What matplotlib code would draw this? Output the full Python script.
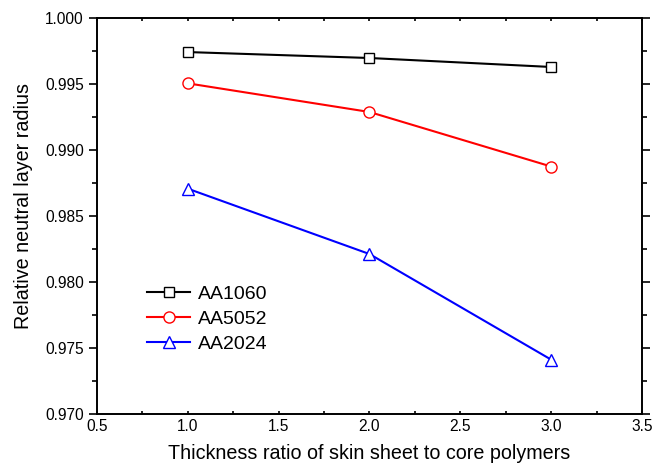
import matplotlib
matplotlib.use("Agg")
import matplotlib.pyplot as plt
from matplotlib.ticker import MultipleLocator, FormatStrFormatter

plt.rcParams['font.family'] = ['Liberation Sans', 'DejaVu Sans']

ratio = [1.0, 2.0, 3.0]
aa1060 = [0.99742, 0.99697, 0.99629]
aa5052 = [0.99505, 0.99288, 0.98875]
aa2024 = [0.98707, 0.98212, 0.97412]

fig = plt.figure(figsize=(6.61, 4.75), dpi=100)
ax = fig.add_axes([0.1467, 0.1284, 0.8245, 0.8337])

ax.plot(ratio, aa1060, color='black', marker='s', mfc='white', mec='black', ms=7, lw=1.5, label='AA1060')
ax.plot(ratio, aa5052, color='red', marker='o', mfc='white', mec='red', ms=8, lw=1.5, label='AA5052')
ax.plot(ratio, aa2024, color='blue', marker='^', mfc='white', mec='blue', ms=8.5, lw=1.5, label='AA2024')

ax.set_xlim(0.5, 3.5)
ax.set_ylim(0.970, 1.000)
ax.xaxis.set_major_locator(MultipleLocator(0.5))
ax.xaxis.set_minor_locator(MultipleLocator(0.25))
ax.yaxis.set_major_locator(MultipleLocator(0.005))
ax.yaxis.set_minor_locator(MultipleLocator(0.0025))
ax.xaxis.set_major_formatter(FormatStrFormatter('%.1f'))
ax.yaxis.set_major_formatter(FormatStrFormatter('%.3f'))

ax.tick_params(which='both', direction='out', labelsize=11.2, width=1.2)
ax.tick_params(which='major', length=6)
ax.tick_params(which='minor', length=3.5)
ax.tick_params(which='both', right=True)
ax.tick_params(which='both', top=True, direction='in', length=2, axis='x')
ax.tick_params(axis='x', which='both', bottom=True, labelbottom=True)
for s in ax.spines.values():
    s.set_linewidth(1.4)

ax.set_xlabel('Thickness ratio of skin sheet to core polymers', fontsize=14.2, labelpad=7)
ax.set_ylabel('Relative neutral layer radius', fontsize=14.2, labelpad=9)
ax.yaxis.label.set_y(0.525)

ax.legend(loc='lower left', bbox_to_anchor=(0.06, 0.11), frameon=False, fontsize=14,
          handlelength=2.2, handletextpad=0.4, labelspacing=0.38)

fig.savefig('out.png', dpi=100)
